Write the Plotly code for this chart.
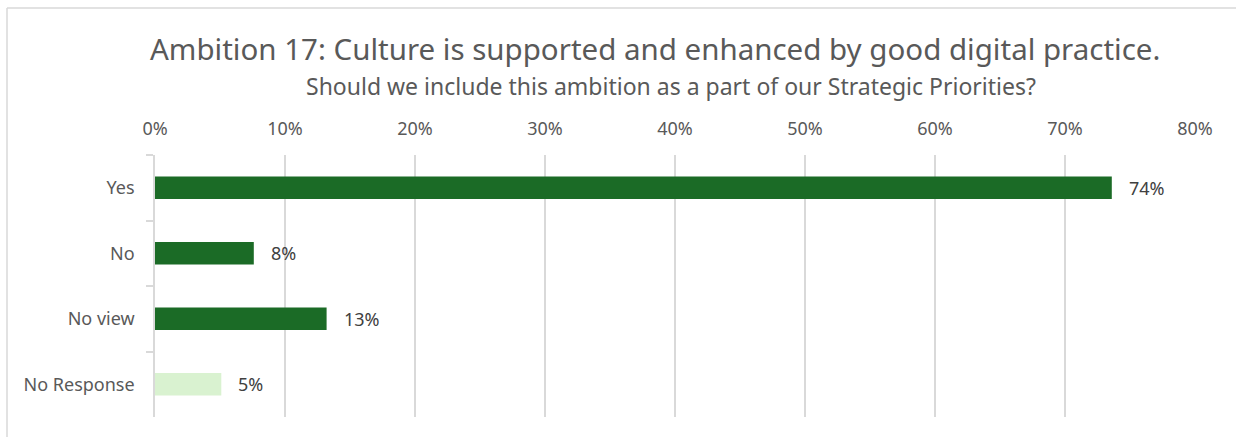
import plotly.graph_objects as go

# Survey responses for Ambition 17
categories = ["Yes", "No", "No view", "No Response"]
shares = [0.736, 0.076, 0.132, 0.051]
bar_colors = ["#1b6b26", "#1b6b26", "#1b6b26", "#d9f2d0"]
x_ticks = [0, 0.1, 0.2, 0.3, 0.4, 0.5, 0.6, 0.7, 0.8]

title_text = "Ambition 17: Culture is supported and enhanced by good digital practice."
subtitle_text = "Should we include this ambition as a part of our Strategic Priorities?"

FONT = "Noto Sans"
TEXT = "#595959"
GRID = "#d9d9d9"

W, H = 1236, 437
ML, MR, MT, MB = 155, 41, 155, 20
plot_w = W - ML - MR
plot_h = H - MT - MB


def px_x(px):
    return (px - ML) / plot_w


def px_y(py):
    return 1 + (MT - py) / plot_h


fig = go.Figure(
    go.Bar(
        y=categories,
        x=shares,
        orientation="h",
        marker=dict(color=bar_colors, line=dict(width=0)),
        width=0.345,
        hoverinfo="x+y",
    )
)

# Value labels to the right of each bar
value_labels = [
    dict(x=v, y=c, xref="x", yref="y", text=f"{v:.0%}", showarrow=False,
         xanchor="left", yanchor="middle", xshift=15,
         font=dict(family=FONT, size=18, color="#404040"))
    for c, v in zip(categories, shares)
]

titles = [
    dict(text=title_text, x=px_x(655), y=px_y(49), xref="paper", yref="paper",
         xanchor="center", yanchor="middle", showarrow=False,
         font=dict(size=29.5, color=TEXT, family=FONT)),
    dict(text=subtitle_text, x=px_x(671), y=px_y(86), xref="paper", yref="paper",
         xanchor="center", yanchor="middle", showarrow=False,
         font=dict(size=23, color=TEXT, family=FONT)),
]

fig.update_layout(
    width=W,
    height=H,
    margin=dict(l=ML, r=MR, t=MT, b=MB),
    paper_bgcolor="white",
    plot_bgcolor="white",
    showlegend=False,
    font=dict(family=FONT, color=TEXT),
    annotations=titles + value_labels,
    shapes=[
        # chart frame: top and left edges
        dict(type="line", xref="paper", yref="paper",
             x0=px_x(7), x1=2, y0=px_y(8), y1=px_y(8),
             line=dict(color=GRID, width=1.5)),
        dict(type="line", xref="paper", yref="paper",
             x0=px_x(7), x1=px_x(7), y0=px_y(8), y1=-1,
             line=dict(color=GRID, width=1.5)),
    ],
)

fig.update_xaxes(
    side="top",
    range=[0, 0.8],
    tickvals=x_ticks,
    tickformat=".0%",
    showgrid=True,
    gridcolor=GRID,
    gridwidth=1.5,
    zeroline=False,
    showline=False,
    ticks="",
    ticklabelstandoff=15,
    tickfont=dict(size=18, color=TEXT, family=FONT),
)

fig.update_yaxes(
    autorange="reversed",
    showline=True,
    linecolor=GRID,
    linewidth=1.5,
    ticks="outside",
    tickson="boundaries",
    ticklen=7,
    tickcolor=GRID,
    tickwidth=1.5,
    ticklabelstandoff=15,
    tickfont=dict(size=18, color=TEXT, family=FONT),
    showgrid=False,
)

fig.write_html("out.html")
